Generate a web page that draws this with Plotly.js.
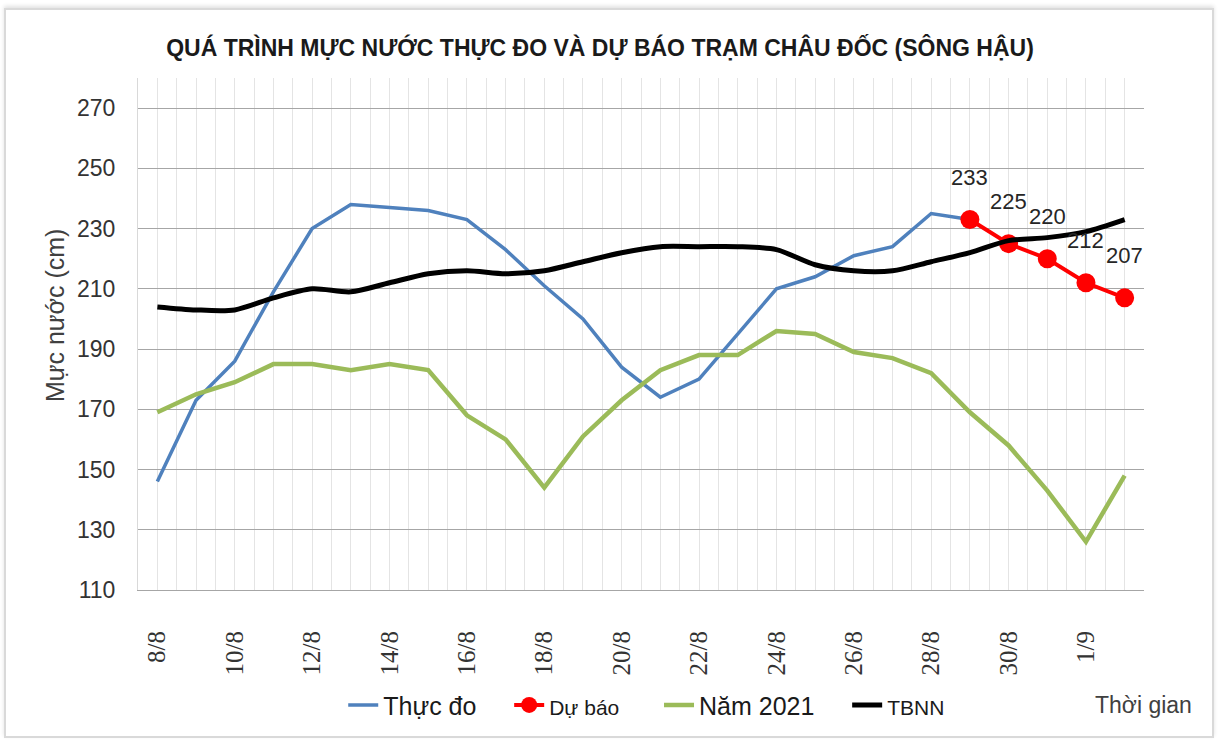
<!DOCTYPE html>
<html>
<head>
<meta charset="utf-8">
<script src="https://cdn.plot.ly/plotly-3.0.1.min.js"></script>
<style>
  html, body { margin: 0; padding: 0; background: #fff; }
  #frame { position: absolute; left: 4px; top: 8px; width: 1206px; height: 726px;
           border: 2px solid #d9d9d9; box-shadow: 0 -2px 4px rgba(0,0,0,0.12); }
  #chart { position: absolute; left: 0; top: 0; width: 1218px; height: 740px; }
</style>
</head>
<body>
<div id="frame"></div>
<div id="chart"></div>
<script>
'use strict';

// ngày (trục hoành)
const days = ['8/8', '9/8', '10/8', '11/8', '12/8', '13/8', '14/8', '15/8', '16/8', '17/8',
  '18/8', '19/8', '20/8', '21/8', '22/8', '23/8', '24/8', '25/8', '26/8', '27/8',
  '28/8', '29/8', '30/8', '31/8', '1/9', '2/9'];
const YEAR = 2022;

// mực nước (cm)
const thucDo = [146, 173, 186, 209, 230, 238, 237, 236, 233, 223, 211, 200, 184, 174,
  180, 195, 210, 214, 221, 224, 235, 233];
const duBao = [233, 225, 220, 212, 207];
const nam2021 = [169, 175, 179, 185, 185, 183, 185, 183, 168, 160, 144, 161, 173, 183,
  188, 188, 196, 195, 189, 187, 182, 169, 158, 143, 126, 148];
const tbnn = [204, 203, 203, 207, 210, 209, 212, 215, 216, 215, 216, 219, 222, 224,
  224, 224, 223, 218, 216, 216, 219, 222, 226, 227, 229, 233];

const yTicks = [110, 130, 150, 170, 190, 210, 230, 250, 270];

const toDate = d => {
  const [dd, mm] = d.split('/');
  return `${YEAR}-${mm.padStart(2, '0')}-${dd.padStart(2, '0')}`;
};
const xs = days.map(toDate);
const DAY = 86400000;

const SANS = 'Liberation Sans, Arial, sans-serif';
const SERIF = 'Liberation Serif, DejaVu Serif, serif';
const pad = n => '\u00a0'.repeat(n);   // khoảng cách giữa các mục chú giải

const traces = [
  {
    type: 'scatter', mode: 'lines', name: 'Thực đo' + pad(4),
    x: xs.slice(0, thucDo.length), y: thucDo,
    line: { color: '#4f81bd', width: 3.5 },
  },
  {
    type: 'scatter', mode: 'lines+markers',
    name: '<span style="font-size:21px">Dự báo</span>' + pad(5),
    x: xs.slice(days.length - duBao.length), y: duBao,
    line: { color: '#ff0000', width: 4 },
    marker: { color: '#ff0000', size: 19 },
  },
  {
    type: 'scatter', mode: 'lines', name: 'Năm 2021' + pad(4),
    x: xs, y: nam2021,
    line: { color: '#9bbb59', width: 4.5 },
  },
  {
    type: 'scatter', mode: 'lines', name: '<span style="font-size:21px">TBNN</span>',
    x: xs, y: tbnn,
    line: { color: '#000000', width: 5, shape: 'spline', smoothing: 0.8 },
  },
];

const annotations = duBao.map((v, i) => ({
  x: xs[days.length - duBao.length + i], y: v, yshift: 42,
  text: String(v), showarrow: false,
  font: { family: SANS, size: 22, color: '#262626' },
}));
annotations.push({
  xref: 'paper', yref: 'paper', x: 1.05, y: -0.225, xanchor: 'right', yanchor: 'middle',
  text: 'Thời gian', showarrow: false,
  font: { family: SANS, size: 23, color: '#404040' },
});
annotations.push({
  xref: 'paper', yref: 'paper', x: -0.0825, y: 0.535, xanchor: 'center', yanchor: 'middle',
  text: 'Mực nước (cm)', textangle: -90, showarrow: false,
  font: { family: SANS, size: 25, color: '#404040' },
});

const layout = {
  width: 1218, height: 740,
  paper_bgcolor: 'rgba(0,0,0,0)', plot_bgcolor: '#fff',
  margin: { l: 138, r: 74, t: 78, b: 141 },
  showlegend: true,
  title: {
    text: '<b>QUÁ TRÌNH MỰC NƯỚC THỰC ĐO VÀ DỰ BÁO TRẠM CHÂU ĐỐC (SÔNG HẬU)</b>',
    x: 0.4926, xanchor: 'center', y: 0.935, yanchor: 'middle',
    font: { family: SANS, size: 23, color: '#1a1a1a' },
  },
  xaxis: {
    type: 'date',
    range: [`${YEAR}-08-07 12:00`, `${YEAR}-09-02 12:00`],
    tickmode: 'linear', tick0: xs[0], dtick: 2 * DAY,
    tickformat: '%-d/%-m', tickangle: -90,
    ticks: '', ticklabelstandoff: 30,
    tickfont: { family: SERIF, size: 25, color: '#333' },
    showgrid: true, gridcolor: '#e4e4e4', gridwidth: 1,
    minor: { tick0: `${YEAR}-08-07 12:00`, dtick: DAY / 2, showgrid: true,
             gridcolor: '#e4e4e4', gridwidth: 1, ticks: '' },
    showline: true, linecolor: '#a6a6a6', linewidth: 1,
    zeroline: false, fixedrange: true,
  },
  yaxis: {
    range: [110, 280], tickvals: yTicks,
    ticks: '', ticklabelstandoff: 17,
    tickfont: { family: SANS, size: 23, color: '#333' },
    showgrid: true, gridcolor: '#a6a6a6', gridwidth: 1,
    showline: true, linecolor: '#d9d9d9', zeroline: false,
    fixedrange: true,
  },
  legend: {
    orientation: 'h', x: 0.204, xanchor: 'left', y: -0.225, yanchor: 'middle',
    font: { family: SANS, size: 25, color: '#1a1a1a' },
    bgcolor: 'rgba(0,0,0,0)', itemwidth: 30, tracegroupgap: 0,
  },
  annotations,
};

Plotly.newPlot('chart', traces, layout, { staticPlot: true, displayModeBar: false });
</script>
</body>
</html>
